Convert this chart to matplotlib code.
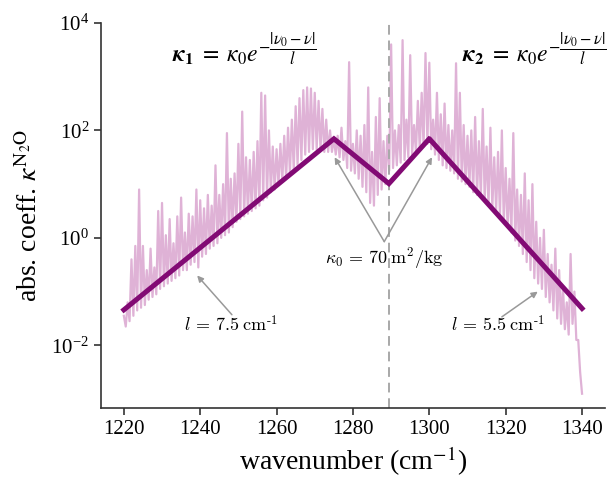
import numpy as np
from matplotlib import pyplot as plt

plt.rcParams['font.family'] = 'serif'
plt.rcParams['font.serif'] = ['Liberation Serif', 'DejaVu Serif']
plt.rcParams['mathtext.fontset'] = 'stix'

# N2O absorption spectrum, log10 of line peaks at integer wavenumbers
# and log10 of the troughs half a wavenumber later
wn_peak = np.arange(1220, 1341)
log_peak = [
    -1.45, -1.2, -0.4, -0.15, 0.9, -0.15, -0.6, -0.2, -0.55, 0.5,
    0.65, 0.05, 0.35, -0.1, 0.4, 0.75, 0.1, 0.45, 0.4, 0.9,
    0.7, 0.55, 0.8, 0.6, 1.35, 0.8, 1.0, 1.95, 1.1, 1.2,
    1.75, 2.35, 1.5, 1.45, 1.6, 1.8, 2.7, 2.65, 2.0, 1.7,
    1.65, 1.75, 1.9, 2.05, 2.2, 2.45, 2.6, 2.75, 2.8, 2.78,
    2.7, 2.55, 2.4, 2.2, 2.0, 1.85, 1.9, 2.05, 1.8, 3.27,
    1.75, 2.0, 1.9, 2.1, 2.8, 1.6, 2.25, 2.6, 1.8, 1.9,
    3.6, 2.0, 2.1, 3.68, 2.2, 3.4, 2.1, 2.55, 2.7, 3.44,
    3.26, 2.2, 2.7, 2.3, 2.5, 2.1, 2.0, 3.25, 2.7, 2.1,
    1.9, 2.0, 2.25, 1.8, 2.4, 1.7, 2.05, 1.5, 1.6, 2.0,
    1.3, 1.1, 1.95, 0.9, 0.8, 1.2, 0.7, 1.0, 0.3, 0.0,
    0.15, -0.3, -0.5, -0.2, -0.6, -0.9, -1.2, -0.3, -1.0, -1.9,
    -2.9,
]
wn_low = np.arange(1220, 1340) + 0.5
log_low = [
    -1.65, -1.55, -1.45, -1.35, -1.3, -1.25, -1.15, -1.1, -1.05, -0.95,
    -0.9, -0.85, -0.8, -0.75, -0.7, -0.6, -0.6, -0.5, -0.45, -0.55,
    -0.35, -0.3, -0.2, -0.15, -0.1, 0.0, 0.05, 0.1, 0.2, 0.3,
    0.35, 0.4, 0.45, 0.5, 0.55, 0.6, 0.7, 0.75, 0.85, 0.9,
    1.0, 1.05, 1.1, 1.2, 1.25, 1.35, 1.45, 1.55, 1.6, 1.65,
    1.65, 1.65, 1.6, 1.6, 1.6, 1.55, 1.5, 1.45, 1.3, 1.25,
    1.2, 1.1, 0.95, 0.85, 0.65, 0.6, 0.8, 0.9, 1.0, 1.25,
    1.3, 1.35, 1.4, 1.45, 1.5, 1.55, 1.6, 1.65, 1.7, 1.75,
    1.65, 1.55, 1.45, 1.35, 1.3, 1.25, 1.2, 1.1, 1.05, 1.0,
    0.95, 0.85, 0.8, 0.75, 0.7, 0.6, 0.55, 0.5, 0.4, 0.3,
    0.2, 0.1, -0.05, -0.15, -0.3, -0.45, -0.6, -0.75, -0.85, -0.95,
    -1.1, -1.2, -1.35, -1.5, -1.6, -1.7, -1.8, -1.6, -1.9, -2.5,
]

# exponential fit parameters
kappa0 = 70.0          # m2/kg
nu0_1, l_1 = 1275, 7.5
nu0_2, l_2 = 1300, 5.5
nu_start, nu_end = 1220, 1340

wn = np.empty(len(wn_peak) + len(wn_low))
wn[0::2] = wn_peak
wn[1::2] = wn_low
kappa = np.empty_like(wn)
kappa[0::2] = 10 ** np.array(log_peak)
kappa[1::2] = 10 ** np.array(log_low)

nu = np.linspace(nu_start, nu_end, 2001)
k1 = kappa0 * np.exp(-np.abs(nu0_1 - nu) / l_1)
k2 = kappa0 * np.exp(-np.abs(nu0_2 - nu) / l_2)
k_fit = np.maximum(k1, k2)
nu_cross = (nu0_1 * l_2 + nu0_2 * l_1) / (l_1 + l_2)

fig = plt.figure(figsize=(6.08, 4.78), dpi=100)
ax = fig.add_axes([0.166, 0.146, 0.829, 0.806])

ax.plot(wn, kappa, color='#dfb2d6', lw=1.6, zorder=1)
ax.plot(nu, k_fit, color='#820a74', lw=3.6, zorder=3, solid_joinstyle='miter')
ax.axvline(nu_cross, color='#a8a8a8', ls=(0, (5, 3)), lw=1.4, zorder=2)

ax.set_yscale('log')
ax.set_xlim(1214, 1346)
ax.set_ylim(10 ** -3.17, 1e4)
ax.set_yticks([1e-2, 1e0, 1e2, 1e4])
ax.minorticks_off()
ax.set_xticks(np.arange(1220, 1341, 20))
ax.tick_params(labelsize=15, length=5, width=1.2, colors='#333333', labelcolor='black')
for s in ['top', 'right']:
    ax.spines[s].set_visible(False)
for s in ['left', 'bottom']:
    ax.spines[s].set_linewidth(1.2)
    ax.spines[s].set_color('#333333')

ax.set_xlabel(r'wavenumber (cm$^{-1}$)', fontsize=20, labelpad=4)
ax.set_ylabel(r'abs. coeff. $\kappa^{\mathrm{N_2O}}$', fontsize=20, labelpad=6)

eq = r'$\mathbfit{\kappa}_{\mathbf{1}}\;=\;\kappa_0 e^{-\dfrac{|\nu_0-\nu|}{l}}$'
ax.text(1251.5, 10 ** 3.52, eq, fontsize=17, ha='center', va='center', math_fontfamily='stix')
ax.text(1327.5, 10 ** 3.52, eq.replace('{1}', '{2}'), fontsize=17, ha='center', va='center',
        math_fontfamily='stix')

arrow = dict(arrowstyle='-|>', color='#999999', lw=1.1, mutation_scale=9, shrinkA=0, shrinkB=0)
ax.text(1288.3, 10 ** -0.37, r'$\kappa_0\,=\,70\;\mathrm{m^2/kg}$', fontsize=13, ha='center',
        va='center', math_fontfamily='cm')
ax.annotate('', xy=(1275.2, 10 ** 1.5), xytext=(1288.2, 10 ** -0.07), arrowprops=arrow)
ax.annotate('', xy=(1300.7, 10 ** 1.5), xytext=(1288.2, 10 ** -0.07), arrowprops=arrow)

ax.text(1248, 10 ** -1.62, r'$l\,=\,7.5\;\mathrm{cm}^{\text{-}1}$', fontsize=13, ha='center',
        va='center', math_fontfamily='cm')
ax.annotate('', xy=(1239.2, 10 ** -0.7), xytext=(1248.3, 10 ** -1.43), arrowprops=arrow)

ax.text(1318, 10 ** -1.62, r'$l\,=\,5.5\;\mathrm{cm}^{\text{-}1}$', fontsize=13, ha='center',
        va='center', math_fontfamily='cm')
ax.annotate('', xy=(1328.4, 10 ** -1.0), xytext=(1319, 10 ** -1.47), arrowprops=arrow)

fig.savefig('out.png', dpi=100)
